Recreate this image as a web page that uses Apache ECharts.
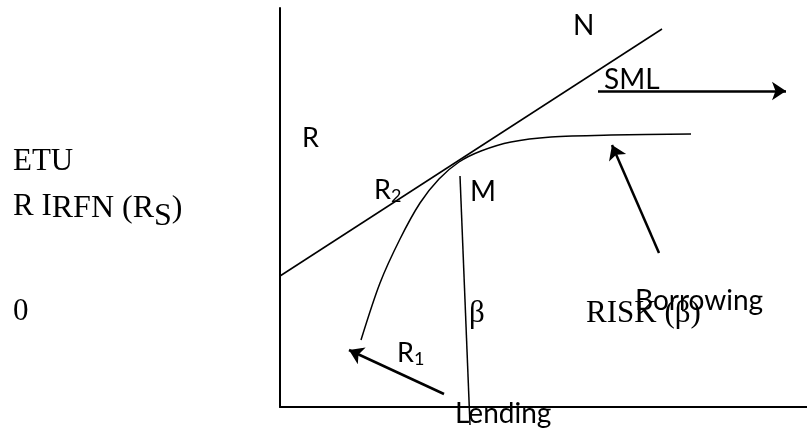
<!DOCTYPE html>
<html>
<head>
<meta charset="utf-8">
<script src="https://cdn.jsdelivr.net/npm/echarts@6/dist/echarts.min.js"></script>
<style>
  html, body { margin: 0; padding: 0; background: #fff; }
  #chart { width: 807px; height: 430px; }
</style>
</head>
<body>
<div id="chart"></div>
<script>
// diagram coordinates: origin at the axis corner, x = risk, y = return
const cmlLine = [[0, 131], [382, 378]]
const frontier = [[81, 67], [100, 124], [120, 168], [140, 204], [159, 228], [179, 245],
  [201, 256], [231, 265], [271, 270], [331, 272], [411, 273]]
const betaLine = [[180, 231], [190, -18]]
const lendingArrow = [[164, 13], [69, 57]]
const borrowingArrow = [[379, 154], [332, 262]]
const smlArrow = [[318, 316], [506, 316]]

const sans = 'Lato, "Open Sans", sans-serif'
const serif = '"Liberation Serif", "DejaVu Serif", serif'

function txt (x, y, text, size, family, rich) {
  return {
    type: 'text',
    x: x,
    y: y,
    style: {
      text: text,
      font: size + 'px ' + family,
      fill: '#000',
      verticalAlign: 'middle',
      rich: rich
    }
  }
}

const chart = echarts.init(document.getElementById('chart'))
const option = {
  animation: false,
  grid: { left: 280, right: 0, top: 8, bottom: 23 },
  xAxis: {
    type: 'value', min: 0, max: 527,
    axisLine: { lineStyle: { color: '#000', width: 2 } },
    axisTick: { show: false }, axisLabel: { show: false }, splitLine: { show: false }
  },
  yAxis: {
    type: 'value', min: 0, max: 399,
    axisLine: { show: true, lineStyle: { color: '#000', width: 2 } },
    axisTick: { show: false }, axisLabel: { show: false }, splitLine: { show: false }
  },
  series: [
    {
      type: 'line', data: cmlLine, symbol: 'none', clip: false,
      lineStyle: { color: '#000', width: 1.5 }
    },
    {
      type: 'line', data: frontier, symbol: 'none', smooth: 0.3, clip: false,
      lineStyle: { color: '#000', width: 1.5 }
    },
    {
      type: 'line', data: betaLine, symbol: 'none', clip: false,
      lineStyle: { color: '#000', width: 1.5 }
    },
    {
      type: 'lines',
      coordinateSystem: 'cartesian2d',
      symbol: ['none', 'arrow'],
      symbolSize: 14,
      lineStyle: { color: '#000', width: 2.5, opacity: 1 },
      data: [
        { coords: lendingArrow },
        { coords: borrowingArrow },
        { coords: smlArrow }
      ]
    }
  ],
  graphic: [
    txt(573, 26, 'N', 28, sans),
    txt(604, 80, 'SML', 28, sans),
    txt(302, 138, 'R', 27, sans),
    txt(374, 190, 'R{s|2}', 27, sans, { s: { font: '18px ' + sans, padding: [12, 0, 0, 0] } }),
    txt(470, 192, 'M', 28, sans),
    txt(13, 162, 'ETU', 31, serif),
    txt(13, 207, 'R I{a|RFN (R}{s|S}{a|)}', 31, serif, {
      a: { font: '32px ' + serif, padding: [4, 0, 0, 0] },
      s: { font: '32px ' + serif, padding: [20, 0, 0, 0] }
    }),
    txt(13, 312, '0', 31, serif),
    txt(469, 314, 'β', 31, serif),
    txt(586, 314, 'RISK (β)', 31, serif),
    txt(635, 301, 'Borrowing', 28, sans),
    txt(397, 353, 'R{s|1}', 27, sans, { s: { font: '18px ' + sans, padding: [12, 0, 0, 0] } }),
    txt(455, 414, 'Lending', 28, sans)
  ]
}
chart.setOption(option)
</script>
</body>
</html>
